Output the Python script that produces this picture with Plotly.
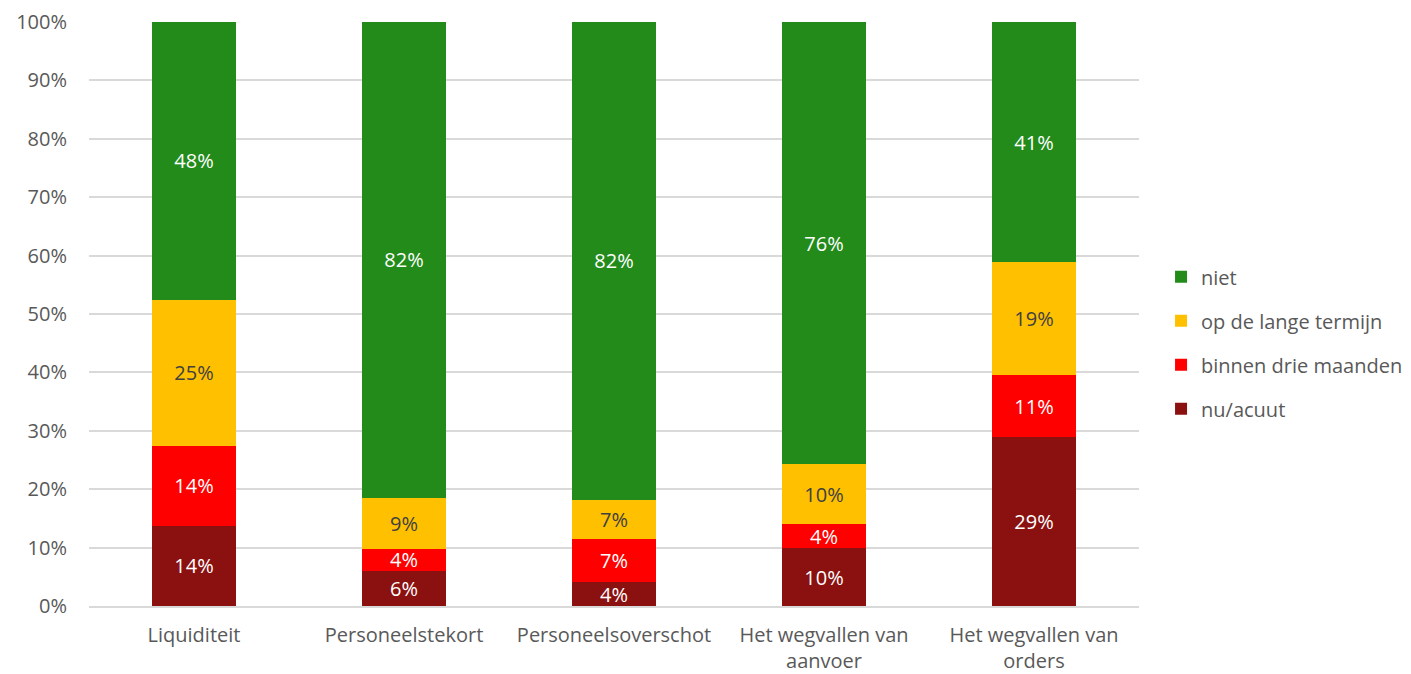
import plotly.graph_objects as go

categories = ["Liquiditeit", "Personeelstekort", "Personeelsoverschot",
              "Het wegvallen van<br>aanvoer", "Het wegvallen van<br>orders"]
nu_acuut = [13.7, 6.0, 4.1, 9.9, 28.9]
binnen_drie_maanden = [13.7, 3.8, 7.4, 4.1, 10.6]
lange_termijn = [25.0, 8.7, 6.7, 10.3, 19.4]
niet = [47.6, 81.5, 81.8, 75.7, 41.1]
ytick_vals = list(range(0, 101, 10))
ytick_text = [f"{v}%" for v in ytick_vals]

series = [
    ("nu/acuut", nu_acuut, "#8B1010", "white", 4),
    ("binnen drie maanden", binnen_drie_maanden, "#FF0000", "white", 3),
    ("op de lange termijn", lange_termijn, "#FFC000", "#404040", 2),
    ("niet", niet, "#228B1A", "white", 1),
]

font = "Open Sans, Liberation Sans, sans-serif"
fig = go.Figure()
for i, (name, vals, color, tcolor, rank) in enumerate(series):
    fig.add_trace(go.Bar(
        x=categories, y=vals, name=name, legendgroup=str(i), legendrank=rank,
        marker=dict(color=color, line=dict(width=0)),
        texttemplate="%{y:.0f}%", textposition="inside",
        insidetextanchor="middle", textangle=0, constraintext="none",
        textfont=dict(color=tcolor, size=20, family=font),
        width=0.4,
    ))

fig.update_layout(
    barmode="stack",
    width=1403, height=666,
    margin=dict(l=81, r=272, t=14, b=68, autoexpand=False),
    plot_bgcolor="white", paper_bgcolor="white",
    font=dict(family=font, color="#595959", size=20),
    yaxis=dict(range=[0, 100], tickvals=ytick_vals, ticktext=ytick_text,
               gridcolor="#D9D9D9", gridwidth=1.5, automargin=False,
               zeroline=False, ticklabelstandoff=21,
               tickfont=dict(size=20, color="#595959")),
    xaxis=dict(showline=True, linecolor="#D9D9D9", linewidth=1.5,
               automargin=False, ticklabelstandoff=10,
               tickfont=dict(size=20, color="#595959")),
    legend=dict(x=1.021, y=0.597, xanchor="left", yanchor="top",
                traceorder="grouped", tracegroupgap=15,
                font=dict(size=20, color="#595959", family=font),
                itemwidth=30),
)
fig.write_html("out.html")
